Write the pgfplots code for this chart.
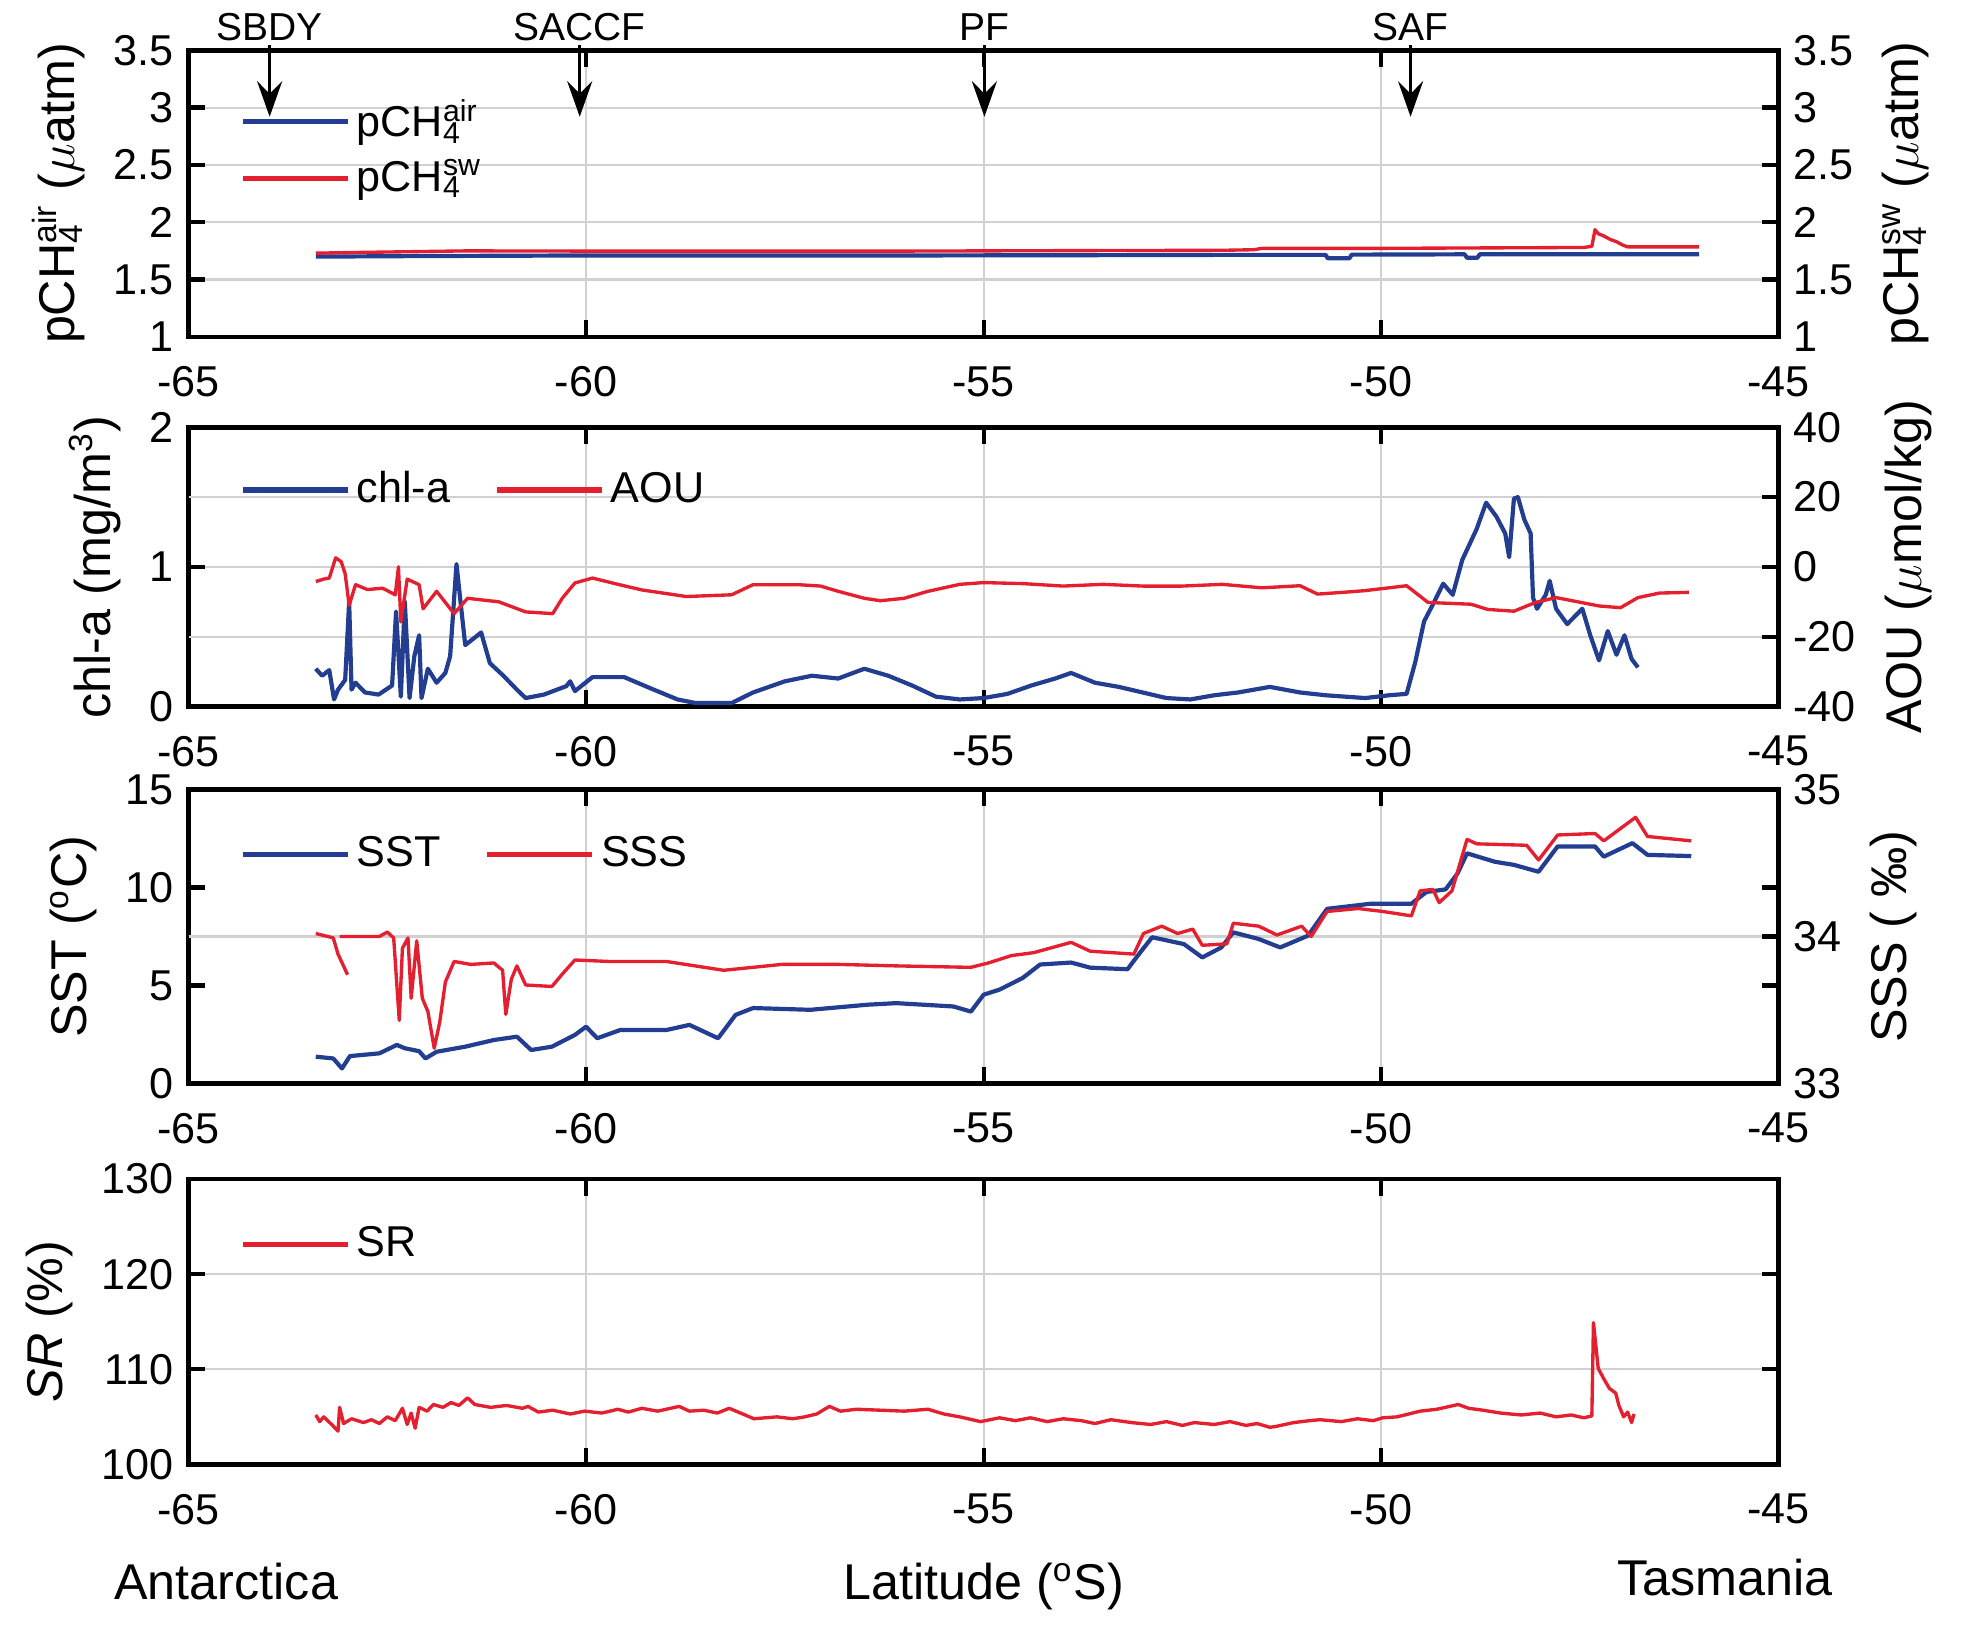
\documentclass[border=0pt]{standalone}
\usepackage{fontspec}
\setmainfont{Liberation Sans}
\usepackage{pgfplots}
\pgfplotsset{compat=1.18}
\usepackage{pgfplotstable}
\usetikzlibrary{arrows.meta}
\definecolor{cb}{RGB}{35,61,145}
\definecolor{cr}{RGB}{228,32,48}
\newcommand{\pch}[1]{pCH\rlap{\textsubscript{4}}\textsuperscript{#1}}

\pgfplotstableread{
lat v
-63.40 1.700
-62.00 1.705
-60.00 1.710
-58.00 1.710
-56.00 1.710
-54.00 1.712
-52.00 1.715
-50.70 1.715
-50.67 1.685
-50.40 1.685
-50.37 1.717
-48.95 1.720
-48.92 1.690
-48.79 1.690
-48.76 1.720
-47.00 1.720
-46.00 1.720
}\airtab
\pgfplotstableread{
lat v
-63.40 1.730
-63.00 1.735
-62.50 1.740
-62.00 1.745
-61.50 1.750
-60.00 1.748
-58.00 1.748
-56.00 1.748
-54.00 1.752
-52.00 1.755
-51.60 1.760
-51.50 1.772
-50.00 1.772
-49.00 1.775
-48.00 1.778
-47.45 1.780
-47.35 1.790
-47.31 1.935
-47.27 1.900
-47.20 1.880
-47.12 1.850
-47.04 1.830
-46.96 1.800
-46.90 1.785
-46.00 1.785
}\swtab
\pgfplotstableread{
lat v
-63.40 0.27
-63.32 0.22
-63.23 0.26
-63.17 0.05
-63.12 0.12
-63.03 0.19
-62.98 0.75
-62.95 0.12
-62.90 0.17
-62.78 0.10
-62.61 0.085
-62.44 0.15
-62.39 0.68
-62.33 0.07
-62.28 0.75
-62.22 0.06
-62.16 0.36
-62.10 0.51
-62.07 0.06
-61.99 0.27
-61.88 0.17
-61.77 0.24
-61.71 0.36
-61.63 1.02
-61.57 0.70
-61.52 0.44
-61.43 0.48
-61.32 0.53
-61.21 0.31
-61.04 0.22
-60.87 0.12
-60.76 0.06
-60.53 0.085
-60.25 0.145
-60.20 0.18
-60.14 0.11
-59.92 0.21
-59.52 0.21
-59.19 0.13
-58.85 0.05
-58.62 0.024
-58.17 0.024
-57.90 0.10
-57.50 0.18
-57.16 0.22
-56.83 0.20
-56.50 0.27
-56.20 0.22
-55.90 0.15
-55.60 0.07
-55.30 0.05
-55.00 0.06
-54.70 0.09
-54.40 0.15
-54.10 0.20
-53.90 0.24
-53.60 0.17
-53.30 0.14
-53.00 0.10
-52.70 0.06
-52.40 0.05
-52.10 0.08
-51.80 0.10
-51.40 0.14
-51.02 0.10
-50.70 0.08
-50.20 0.06
-49.90 0.08
-49.68 0.09
-49.57 0.32
-49.46 0.61
-49.35 0.73
-49.22 0.88
-49.10 0.80
-48.98 1.05
-48.80 1.27
-48.68 1.46
-48.55 1.36
-48.44 1.24
-48.39 1.07
-48.33 1.49
-48.28 1.50
-48.20 1.34
-48.12 1.24
-48.09 0.78
-48.04 0.70
-47.93 0.80
-47.88 0.90
-47.80 0.70
-47.66 0.59
-47.47 0.70
-47.37 0.51
-47.26 0.33
-47.15 0.54
-47.04 0.37
-46.94 0.51
-46.85 0.34
-46.77 0.28
}\chltab
\pgfplotstableread{
lat v
-63.40 -4.2
-63.30 -3.5
-63.23 -3.2
-63.15 2.6
-63.08 1.5
-63.03 -2.0
-62.98 -11.0
-62.90 -5.1
-62.75 -6.5
-62.56 -6.1
-62.40 -8.0
-62.36 0.0
-62.33 -15.8
-62.25 -3.5
-62.10 -5.1
-62.05 -12.0
-61.88 -7.0
-61.66 -13.4
-61.49 -9.0
-61.30 -9.5
-61.10 -10.0
-60.76 -12.9
-60.42 -13.4
-60.30 -9.0
-60.14 -4.6
-59.92 -3.2
-59.60 -5.0
-59.30 -6.6
-58.74 -8.5
-58.17 -8.0
-57.90 -5.1
-57.33 -5.1
-57.05 -5.5
-56.83 -7.0
-56.50 -9.0
-56.30 -9.7
-56.00 -9.0
-55.70 -7.0
-55.30 -5.0
-55.00 -4.5
-54.50 -4.8
-54.00 -5.5
-53.50 -5.0
-53.00 -5.5
-52.50 -5.5
-52.00 -5.0
-51.50 -6.0
-51.02 -5.4
-50.80 -7.8
-50.48 -7.3
-50.20 -6.8
-49.68 -5.4
-49.41 -10.2
-48.87 -10.7
-48.66 -12.2
-48.33 -12.7
-48.06 -10.2
-47.80 -8.8
-47.53 -10.0
-47.26 -11.2
-46.99 -11.7
-46.77 -8.8
-46.50 -7.5
-46.13 -7.3
}\aoutab
\pgfplotstableread{
lat v
-63.40 1.37
-63.18 1.28
-63.07 0.77
-62.97 1.40
-62.60 1.54
-62.38 1.97
-62.28 1.80
-62.10 1.65
-62.02 1.28
-61.88 1.62
-61.52 1.88
-61.16 2.22
-60.87 2.39
-60.69 1.71
-60.43 1.88
-60.14 2.48
-60.00 2.90
-59.86 2.31
-59.57 2.73
-58.99 2.73
-58.70 2.99
-58.34 2.31
-58.12 3.50
-57.90 3.85
-57.18 3.76
-56.46 4.02
-56.10 4.10
-55.38 3.93
-55.16 3.67
-55.00 4.53
-54.80 4.79
-54.51 5.38
-54.29 6.07
-53.90 6.17
-53.66 5.91
-53.19 5.83
-53.03 6.69
-52.88 7.46
-52.48 7.11
-52.25 6.43
-52.01 6.94
-51.86 7.71
-51.54 7.37
-51.27 6.94
-50.92 7.54
-50.68 8.91
-50.13 9.17
-49.62 9.17
-49.43 9.77
-49.19 9.90
-49.04 10.71
-48.92 11.74
-48.57 11.31
-48.33 11.15
-48.02 10.80
-47.78 12.09
-47.31 12.09
-47.20 11.57
-46.84 12.26
-46.65 11.66
-46.10 11.60
}\ssttab
\pgfplotstableread{
lat v
-63.40 34.02
-63.25 34.00
-63.18 33.99
-63.12 33.88
-63.00 33.74
-63.00 nan
-63.10 34.00
-62.60 34.00
-62.50 34.03
-62.42 33.99
-62.35 33.43
-62.31 33.92
-62.24 33.99
-62.20 33.58
-62.13 33.97
-62.06 33.58
-61.99 33.49
-61.91 33.24
-61.84 33.42
-61.77 33.69
-61.66 33.83
-61.45 33.81
-61.16 33.82
-61.05 33.77
-61.01 33.47
-60.94 33.71
-60.87 33.80
-60.76 33.67
-60.43 33.66
-60.29 33.75
-60.14 33.84
-59.71 33.83
-58.99 33.83
-58.27 33.77
-57.54 33.81
-56.82 33.81
-56.10 33.80
-55.16 33.79
-54.94 33.82
-54.65 33.87
-54.37 33.89
-53.90 33.96
-53.66 33.90
-53.11 33.88
-52.99 34.02
-52.76 34.07
-52.56 34.02
-52.37 34.05
-52.25 33.94
-51.94 33.95
-51.86 34.09
-51.54 34.07
-51.31 34.01
-51.00 34.07
-50.88 34.00
-50.68 34.17
-50.29 34.19
-49.98 34.17
-49.62 34.14
-49.51 34.31
-49.35 34.32
-49.27 34.23
-49.11 34.31
-48.92 34.66
-48.80 34.63
-48.17 34.62
-48.02 34.52
-47.78 34.69
-47.31 34.70
-47.20 34.65
-47.00 34.73
-46.80 34.81
-46.65 34.68
-46.10 34.65
}\ssstab
\pgfplotstableread{
lat v
-63.40 105.2
-63.35 104.5
-63.30 105.0
-63.20 104.2
-63.12 103.5
-63.10 106.0
-63.05 104.3
-62.95 104.8
-62.80 104.4
-62.70 104.7
-62.60 104.3
-62.50 105.0
-62.40 104.6
-62.31 105.9
-62.25 104.2
-62.20 105.4
-62.15 103.8
-62.10 106.0
-62.00 105.6
-61.92 106.3
-61.80 106.0
-61.70 106.5
-61.60 106.2
-61.49 107.0
-61.40 106.3
-61.20 106.0
-61.00 106.2
-60.80 105.9
-60.73 106.1
-60.60 105.5
-60.42 105.7
-60.20 105.3
-60.02 105.6
-59.80 105.4
-59.60 105.8
-59.47 105.5
-59.30 105.9
-59.10 105.6
-58.83 106.1
-58.70 105.6
-58.52 105.7
-58.35 105.4
-58.20 105.9
-58.00 105.2
-57.89 104.8
-57.60 105.0
-57.40 104.8
-57.25 105.0
-57.10 105.3
-56.94 106.1
-56.80 105.6
-56.60 105.8
-56.30 105.7
-56.00 105.6
-55.70 105.8
-55.50 105.3
-55.30 105.0
-55.04 104.5
-54.80 104.9
-54.60 104.6
-54.41 104.9
-54.20 104.5
-54.00 104.8
-53.77 104.6
-53.60 104.3
-53.40 104.7
-53.14 104.4
-52.90 104.2
-52.70 104.5
-52.50 104.1
-52.35 104.4
-52.10 104.2
-51.90 104.5
-51.70 104.1
-51.56 104.3
-51.40 103.9
-51.32 104.0
-51.10 104.4
-50.90 104.6
-50.77 104.7
-50.50 104.5
-50.30 104.8
-50.10 104.6
-49.98 104.9
-49.80 105.0
-49.51 105.6
-49.30 105.8
-49.03 106.3
-48.90 105.9
-48.72 105.7
-48.50 105.4
-48.24 105.2
-48.00 105.4
-47.80 105.0
-47.61 105.2
-47.45 104.9
-47.35 105.1
-47.33 114.9
-47.27 110.1
-47.20 109.0
-47.13 108.0
-47.05 107.5
-47.01 106.2
-46.95 105.0
-46.90 105.5
-46.85 104.4
-46.82 105.3
}\srtab

\tikzset{front/.style={-{Stealth[length=8.5pt,width=6pt,inset=3pt]}, line width=0.6pt},
  frontlab/.style={font=\fontsize{9.3}{10}\selectfont, anchor=center, yshift=5.6pt}}

\pgfplotsset{
  panel/.style={scale only axis, width=379.5pt, xmin=-65, xmax=-45,
    xtick={-65,-60,-55,-50,-45}, tick align=inside, major tick length=4pt,
    axis line style={line width=1.1pt}, every tick/.style={line width=1pt, black},
    tick label style={font=\fontsize{10.3}{12}\selectfont},
    xticklabel style={yshift=-3.5pt},
    label style={font=\fontsize{12}{14}\selectfont},
    /pgf/number format/assume math mode=true,
    grid style={black!18, line width=0.5pt},
    legend style={draw=none, fill=none, font=\fontsize{10.3}{12}\selectfont, inner sep=0pt,
      nodes={inner xsep=1.5pt}, /tikz/every even column/.append style={column sep=9pt}},
    legend image code/.code={\draw[##1, line width=1.3pt] (0pt,0pt) -- (25pt,0pt);},
    legend cell align=left, clip=false},
  leftax/.style={panel, xmajorgrids, yticklabel pos=left},
  rightax/.style={panel, axis y line*=right, axis x line=none},
  bl/.style={cb, line width=1pt, line join=round},
  rl/.style={cr, line width=0.8pt, line join=round},
}

\begin{document}
\begin{tikzpicture}
\path[use as bounding box] (0,0) rectangle (470.4pt,387.6pt);

% ---------- panel 1
\begin{axis}[leftax, at={(45pt,307.2pt)}, anchor=south west, height=68.4pt,
  ymin=1, ymax=3.5, ytick={1,1.5,2,2.5,3,3.5}, ymajorgrids,
  ylabel={\pch{air} ($\mu$atm)}]
\addplot[bl] table[x=lat,y=v] {\airtab};
\draw[front] (axis cs:-63.98,3.545) -- (axis cs:-63.98,2.92);
\draw[front] (axis cs:-60.08,3.545) -- (axis cs:-60.08,2.92);
\draw[front] (axis cs:-54.99,3.545) -- (axis cs:-54.99,2.92);
\draw[front] (axis cs:-49.63,3.545) -- (axis cs:-49.63,2.92);
\node[frontlab] at (axis cs:-63.98,3.5) {SBDY};
\node[frontlab] at (axis cs:-60.08,3.5) {SACCF};
\node[frontlab] at (axis cs:-54.99,3.5) {PF};
\node[frontlab] at (axis cs:-49.63,3.5) {SAF};
\end{axis}
\begin{axis}[rightax, at={(45pt,307.2pt)}, anchor=south west, height=68.4pt,
  ymin=1, ymax=3.5, ytick={1,1.5,2,2.5,3,3.5},
  ylabel={\pch{sw} ($\mu$atm)},
  legend style={at={(0.032,0.86)}, anchor=north west}]
\addlegendimage{bl}
\addlegendentry{\pch{air}}
\addplot[rl] table[x=lat,y=v] {\swtab};
\addlegendentry{\pch{sw}}
\end{axis}

% ---------- panel 2
\begin{axis}[leftax, at={(45pt,219.0pt)}, anchor=south west, height=66.6pt,
  ymin=0, ymax=2, ytick={0,1,2}, ymajorgrids,
  extra y ticks={0.5,1.5}, extra y tick labels={}, extra y tick style={major tick length=0pt},
  ylabel={chl-a (mg/m\textsuperscript{3})}]
\addplot[bl] table[x=lat,y=v] {\chltab};
\end{axis}
\begin{axis}[rightax, at={(45pt,219.0pt)}, anchor=south west, height=66.6pt,
  ymin=-40, ymax=40, ytick={-40,-20,0,20,40},
  ylabel={AOU ($\mu$mol/kg)},
  legend columns=2, legend style={at={(0.032,0.775)}, anchor=west}]
\addlegendimage{bl}
\addlegendentry{chl-a}
\addplot[rl] table[x=lat,y=v] {\aoutab};
\addlegendentry{AOU}
\end{axis}

% ---------- panel 3
\begin{axis}[leftax, at={(45pt,129.0pt)}, anchor=south west, height=70.2pt,
  ymin=0, ymax=15, ytick={0,5,10,15},
  extra y ticks={7.5}, extra y tick labels={}, extra y tick style={major tick length=0pt, ymajorgrids},
  ylabel={SST (\textsuperscript{o}C)}]
\addplot[bl] table[x=lat,y=v] {\ssttab};
\end{axis}
\begin{axis}[rightax, at={(45pt,129.0pt)}, anchor=south west, height=70.2pt,
  ymin=33, ymax=35, ytick={33,34,35}, unbounded coords=jump,
  ylabel={SSS ( ‰)},
  legend columns=2, legend style={at={(0.032,0.778)}, anchor=west}]
\addlegendimage{bl}
\addlegendentry{SST}
\addplot[rl] table[x=lat,y=v] {\ssstab};
\addlegendentry{SSS}
\end{axis}

% ---------- panel 4
\begin{axis}[leftax, at={(45pt,38.1pt)}, anchor=south west, height=68.1pt,
  ymin=100, ymax=130, ytick={100,110,120,130}, ymajorgrids,
  ylabel={\textit{SR} (\%)},
  xlabel={Latitude (\textsuperscript{o}S)},
  xlabel style={at={(axis description cs:0.5,0)}, anchor=center, yshift=-29.1pt},
  legend style={at={(0.032,0.771)}, anchor=west}]
\addplot[rl] table[x=lat,y=v] {\srtab};
\addlegendentry{SR}
\node[font=\fontsize{12}{14}\selectfont, anchor=center] at (rel axis cs:0.0237,0) [yshift=-27.9pt] {Antarctica};
\node[font=\fontsize{12}{14}\selectfont, anchor=center] at (rel axis cs:0.966,0) [yshift=-27pt] {Tasmania};
\end{axis}
\end{tikzpicture}
\end{document}
